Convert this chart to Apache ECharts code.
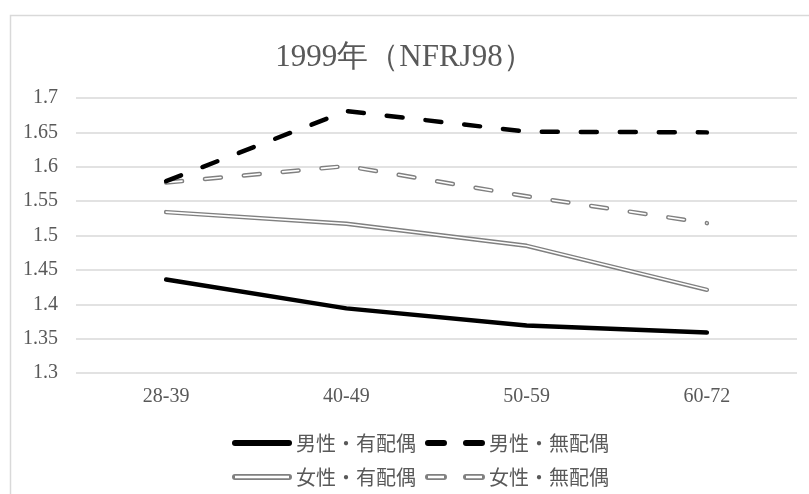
<!DOCTYPE html>
<html>
<head>
<meta charset="utf-8">
<script src="https://cdn.jsdelivr.net/npm/echarts@6/dist/echarts.min.js"></script>
<style>
  html, body { margin: 0; padding: 0; background: #fff; }
  #chart { width: 809px; height: 494px; }
</style>
</head>
<body>
<div id="chart"></div>
<script>
// Age groups on the x axis
const ageGroups = ['28-39', '40-49', '50-59', '60-72'];

// Mean values per group
const maleMarried   = [1.436, 1.394, 1.369, 1.359];
const maleSingle    = [1.579, 1.681, 1.651, 1.650];
const femaleMarried = [1.534, 1.517, 1.485, 1.421];
const femaleSingle  = [1.577, 1.601, 1.557, 1.518];

const seriesNames = ['男性・有配偶', '男性・無配偶', '女性・有配偶', '女性・無配偶'];

const yTicks = { min: 1.3, max: 1.7, interval: 0.05 };

const serif = '"Liberation Serif", "DejaVu Serif", serif';
const jp = '"Noto Sans CJK JP", sans-serif';
const textGray = '#595959';

// Legend icons (60 x 6 box): solid, dashed, outlined solid, outlined dashed
const iconSolid = 'path://M3,0L57,0A3,3 0 0 1 57,6L3,6A3,3 0 0 1 3,0Z';
const iconDash = 'path://M3,0L19,0A3,3 0 0 1 19,6L3,6A3,3 0 0 1 3,0Z M41,0L57,0A3,3 0 0 1 57,6L41,6A3,3 0 0 1 41,0Z';
const iconDouble = 'path://M3,0L57,0A3,3 0 0 1 57,6L3,6A3,3 0 0 1 3,0Z M3,1.8L3,4.2L57,4.2L57,1.8Z';
const iconDoubleDash = 'path://M3,0L19,0A3,3 0 0 1 19,6L3,6A3,3 0 0 1 3,0Z M3,1.8L3,4.2L19,4.2L19,1.8Z M41,0L57,0A3,3 0 0 1 57,6L41,6A3,3 0 0 1 41,0Z M41,1.8L41,4.2L57,4.2L57,1.8Z';

const dashPattern = [16, 23];

function fmt(v) {
  return String(parseFloat(v.toFixed(2)));
}

const chart = echarts.init(document.getElementById('chart'), null, { renderer: 'canvas' });

const legendText = { fontFamily: jp, fontSize: 20, color: textGray, padding: [0, 0, 0, -2] };

chart.setOption({
  animation: false,
  backgroundColor: '#fff',
  graphic: [{
    type: 'rect',
    left: 8, top: 13,
    shape: { width: 820, height: 500 },
    style: { fill: 'none', stroke: '#d9d9d9', lineWidth: 1.5 },
    silent: true,
    z: -1
  }],
  title: {
    text: '1999年（NFRJ98）',
    left: 'center',
    top: 37,
    textStyle: { fontFamily: serif, fontSize: 31, fontWeight: 'normal', color: textGray }
  },
  legend: [
    {
      left: 227, top: 428,
      itemWidth: 62, itemHeight: 6, itemGap: 9,
      textStyle: legendText,
      data: [
        { name: seriesNames[0], icon: iconSolid, itemStyle: { color: '#000' } },
        { name: seriesNames[1], icon: iconDash, itemStyle: { color: '#000' } }
      ]
    },
    {
      left: 227, top: 462,
      itemWidth: 62, itemHeight: 6, itemGap: 9,
      textStyle: legendText,
      data: [
        { name: seriesNames[2], icon: iconDouble, itemStyle: { color: '#808080' } },
        { name: seriesNames[3], icon: iconDoubleDash, itemStyle: { color: '#808080' } }
      ]
    }
  ],
  grid: { left: 76, right: 12, top: 98, bottom: 121 },
  xAxis: {
    type: 'category',
    data: ageGroups,
    boundaryGap: true,
    axisLine: { show: false },
    axisTick: { show: false },
    axisLabel: { fontFamily: serif, fontSize: 20, color: textGray, margin: 14 }
  },
  yAxis: {
    type: 'value',
    min: yTicks.min, max: yTicks.max, interval: yTicks.interval,
    axisLine: { show: false },
    axisTick: { show: false },
    splitLine: { lineStyle: { color: '#d9d9d9', width: 1.5 } },
    axisLabel: { fontFamily: serif, fontSize: 20, color: textGray, margin: 18, formatter: fmt }
  },
  series: [
    {
      name: seriesNames[0], type: 'line', data: maleMarried,
      symbol: 'none', z: 5,
      lineStyle: { color: '#000', width: 4.5, cap: 'round', join: 'round' },
      itemStyle: { color: '#000' }
    },
    {
      name: seriesNames[1], type: 'line', data: maleSingle,
      symbol: 'none', z: 5,
      lineStyle: { color: '#000', width: 4.5, type: dashPattern, cap: 'round', join: 'round' },
      itemStyle: { color: '#000' }
    },
    {
      name: seriesNames[2], type: 'line', data: femaleMarried,
      symbol: 'none', z: 3,
      lineStyle: { color: '#808080', width: 4.5, cap: 'round', join: 'round' },
      itemStyle: { color: '#808080' }
    },
    {
      // white core over the gray stroke gives the double-line look
      name: seriesNames[2], type: 'line', data: femaleMarried,
      symbol: 'none', z: 4, silent: true,
      lineStyle: { color: '#fff', width: 1.6, cap: 'round', join: 'round' },
      itemStyle: { color: '#fff' }
    },
    {
      name: seriesNames[3], type: 'line', data: femaleSingle,
      symbol: 'none', z: 3,
      lineStyle: { color: '#808080', width: 4.5, type: dashPattern, cap: 'round', join: 'round' },
      itemStyle: { color: '#808080' }
    },
    {
      name: seriesNames[3], type: 'line', data: femaleSingle,
      symbol: 'none', z: 4, silent: true,
      lineStyle: { color: '#fff', width: 1.6, type: dashPattern, cap: 'round', join: 'round' },
      itemStyle: { color: '#fff' }
    }
  ]
});
</script>
</body>
</html>
